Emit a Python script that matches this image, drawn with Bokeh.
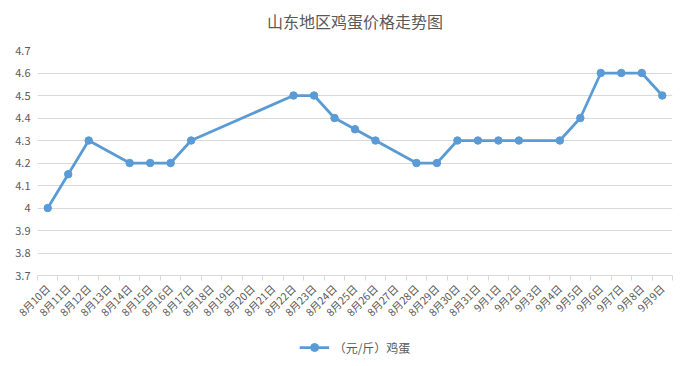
from bokeh.plotting import figure
from bokeh.models import FixedTicker, Legend, LegendItem, ColumnDataSource, Label
from bokeh.layouts import column
from bokeh.embed import file_html
from bokeh.resources import INLINE
import math

title = "山东地区鸡蛋价格走势图"
series_name = "（元/斤）鸡蛋"
dates = ["8月10日", "8月11日", "8月12日", "8月13日", "8月14日", "8月15日", "8月16日",
         "8月17日", "8月18日", "8月19日", "8月20日", "8月21日", "8月22日", "8月23日",
         "8月24日", "8月25日", "8月26日", "8月27日", "8月28日", "8月29日", "8月30日",
         "8月31日", "9月1日", "9月2日", "9月3日", "9月4日", "9月5日", "9月6日",
         "9月7日", "9月8日", "9月9日"]
prices = [4.0, 4.15, 4.3, None, 4.2, 4.2, 4.2,
          4.3, None, None, None, None, 4.5, 4.5,
          4.4, 4.35, 4.3, None, 4.2, 4.2, 4.3,
          4.3, 4.3, 4.3, None, 4.3, 4.4, 4.6,
          4.6, 4.6, 4.5]
y_ticks = [3.7, 3.8, 3.9, 4.0, 4.1, 4.2, 4.3, 4.4, 4.5, 4.6, 4.7]
y_tick_labels = ["3.7", "3.8", "3.9", "4", "4.1", "4.2", "4.3", "4.4", "4.5", "4.6", "4.7"]

xs = [i for i, v in enumerate(prices) if v is not None]
ys = [v for v in prices if v is not None]
src = ColumnDataSource(dict(x=xs, y=ys))

FONT = "Noto Sans CJK SC"
GRAY = "#595959"
BLUE = "#5b9bd5"
GRID = "#d9d9d9"
W = 679

# title strip
tf = figure(width=W, height=42, output_backend="svg", toolbar_location=None,
            x_range=(0, 1), y_range=(0, 1), min_border=0, outline_line_color=None)
tf.axis.visible = False
tf.grid.visible = False
tf.add_layout(Label(x=0.5, y=0.52, text=title, text_align="center", text_baseline="middle",
                    text_font=FONT, text_font_size="16px", text_color=GRAY))

# main chart
n = len(dates)
p = figure(width=W, height=294, output_backend="svg", toolbar_location=None,
           x_range=(-0.5, n - 0.5), y_range=(y_ticks[0], y_ticks[-1]),
           min_border_left=37, min_border_right=7, min_border_top=8, min_border_bottom=61)
p.outline_line_color = None

p.xaxis.ticker = FixedTicker(ticks=list(range(n)), minor_ticks=[i - 0.5 for i in range(n + 1)])
p.xaxis.major_label_overrides = {i: d for i, d in enumerate(dates)}
p.xaxis.major_label_orientation = math.pi / 4
p.xaxis.major_label_text_font = FONT
p.xaxis.major_label_text_font_size = "10.5px"
p.xaxis.major_label_text_color = GRAY
p.xaxis.major_tick_line_color = None
p.xaxis.major_tick_out = 0
p.xaxis.major_tick_in = 0
p.xaxis.minor_tick_line_color = GRID
p.xaxis.minor_tick_out = 5
p.xaxis.minor_tick_in = 0
p.xaxis.axis_line_color = GRID
p.xaxis.major_label_standoff = 6
p.xgrid.grid_line_color = None

p.yaxis.ticker = FixedTicker(ticks=y_ticks)
p.yaxis.major_label_overrides = {t: l for t, l in zip(y_ticks, y_tick_labels)}
p.yaxis.major_label_text_font = FONT
p.yaxis.major_label_text_font_size = "11px"
p.yaxis.major_label_text_color = GRAY
p.yaxis.axis_line_color = None
p.yaxis.major_tick_line_color = None
p.yaxis.major_tick_out = 0
p.yaxis.minor_tick_line_color = None
p.yaxis.major_label_standoff = 7
p.ygrid.ticker = FixedTicker(ticks=y_ticks)
p.ygrid.grid_line_color = GRID
p.ygrid.grid_line_width = 1

p.line("x", "y", source=src, line_color=BLUE, line_width=2.75, line_join="round")
p.scatter("x", "y", source=src, size=7.5, fill_color=BLUE, line_color=BLUE)

# legend strip (its renderers share the series data, which lies outside this strip's ranges)
lg = figure(width=W, height=22, output_backend="svg", toolbar_location=None,
            x_range=(-100, -99), y_range=(0, 1), min_border=0, outline_line_color=None)
lg.axis.visible = False
lg.grid.visible = False
l_ln = lg.line("x", "y", source=src, line_color=BLUE, line_width=2.75)
l_sc = lg.scatter("x", "y", source=src, size=7.5, fill_color=BLUE, line_color=BLUE)
legend = Legend(items=[LegendItem(label=series_name, renderers=[l_ln, l_sc])],
                orientation="horizontal", location="center",
                label_text_font=FONT, label_text_font_size="12px", label_text_color=GRAY,
                glyph_width=30, border_line_color=None, background_fill_alpha=0,
                margin=0, padding=2, spacing=0)
lg.add_layout(legend)

open("out.html", "w").write(file_html(column(tf, p, lg, spacing=0), INLINE))
